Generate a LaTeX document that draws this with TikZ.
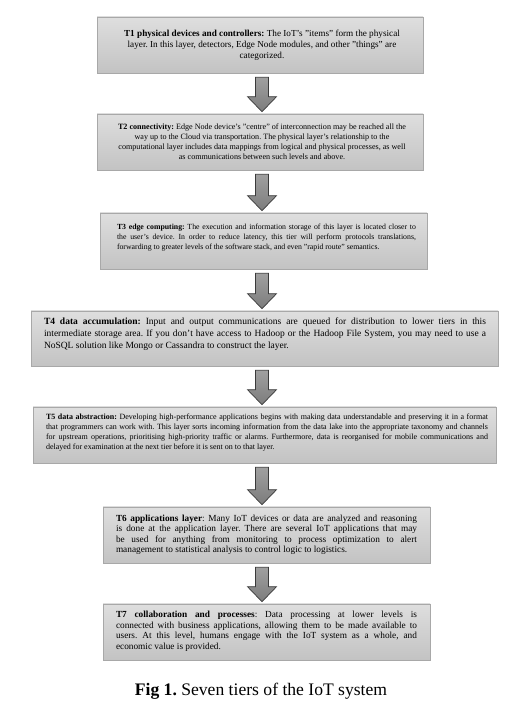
\documentclass[tikz,border=0pt]{standalone}
\usepackage{fontspec}
\setmainfont{Liberation Serif}
\usetikzlibrary{calc}
\frenchspacing
\definecolor{boxtop}{HTML}{DEDEDE}
\definecolor{boxbot}{HTML}{C3C3C3}
\definecolor{boxedge}{HTML}{A8A8A8}
\definecolor{arrtop}{HTML}{A0A0A0}
\definecolor{arrbot}{HTML}{7C7C7C}
\definecolor{arredge}{HTML}{3A3A3A}
\newcommand{\blockarrow}[2]{%
  \draw[blockarr] ($(#1)+(-6.5,0)$) -- ($(#1)+(6.5,0)$) -- ($(#2)+(6.5,15)$) -- ($(#2)+(14.5,15)$) -- (#2) -- ($(#2)+(-14.5,15)$) -- ($(#2)+(-6.5,15)$) -- cycle;}
\begin{document}
\begin{tikzpicture}[x=1pt,y=1pt,
  tierbox/.style={rectangle, draw=boxedge, line width=0.6pt, top color=boxtop, bottom color=boxbot, inner sep=0pt, minimum height=56pt},
  tiertext/.style={inner sep=0pt},
  blockarr/.style={draw=arredge, line width=0.7pt, top color=arrtop, bottom color=arrbot, line join=miter},
  captiontext/.style={inner sep=0pt, font=\fontsize{17.6}{21}\selectfont}
]
\useasboundingbox (0,0) rectangle (517,716);
\fill[white] (0,0) rectangle (517,716);
\coordinate (ax) at (262,0);
% boxes
\node[tierbox, minimum width=326pt] (b1) at (260,671) {};
\node[tierbox, minimum width=326pt] (b2) at (260,574) {};
\node[tierbox, minimum width=327pt] (b3) at (263.5,475) {};
\node[tierbox, minimum width=467pt, minimum height=55pt] (b4) at (264.5,377.5) {};
\node[tierbox, minimum width=463pt] (b5) at (264.5,281) {};
\node[tierbox, minimum width=327pt] (b6) at (266.5,181) {};
\node[tierbox, minimum width=327pt] (b7) at (266.5,84) {};
% texts
\node[tiertext, align=center, font=\fontsize{9.2}{11}\selectfont] (t1) at (262,671)
 {\textbf{T1 physical devices and controllers:} The IoT's "items" form the physical\\
  layer. In this layer, detectors, Edge Node modules, and other "things" are\\
  categorized.};
\node[tiertext, align=center, font=\fontsize{8.1}{10}\selectfont] (t2) at (262,574)
 {\textbf{T2 connectivity:} Edge Node device's "centre" of interconnection may be reached all the\\
  way up to the Cloud via transportation. The physical layer's relationship to the\\
  computational layer includes data mappings from logical and physical processes, as well\\
  as communications between such levels and above.};
\node[tiertext, align=justify, text width=299pt, font=\fontsize{7.8}{10}\selectfont] (t3) at (266.5,478)
 {\textbf{T3 edge computing:} The execution and information storage of this layer is located closer to\linebreak
  the user's device. In order to reduce latency, this tier will perform protocols translations,\linebreak
  forwarding to greater levels of the software stack, and even "rapid route" semantics.};
\node[tiertext, align=justify, text width=442pt, font=\fontsize{9.5}{12}\selectfont] (t4) at (265,381.5)
 {\textbf{T4 data accumulation:} Input and output communications are queued for distribution to lower tiers in this\linebreak
  intermediate storage area. If you don't have access to Hadoop or the Hadoop File System, you may need to use a\linebreak
  NoSQL solution like Mongo or Cassandra to construct the layer.};
\node[tiertext, align=justify, text width=442pt, font=\fontsize{8.0}{10}\selectfont] (t5) at (267,283)
 {\textbf{T5 data abstraction:} Developing high-performance applications begins with making data understandable and preserving it in a format\linebreak
  that programmers can work with. This layer sorts incoming information from the data lake into the appropriate taxonomy and channels\linebreak
  for upstream operations, prioritising high-priority traffic or alarms. Furthermore, data is reorganised for mobile communications and\linebreak
  delayed for examination at the next tier before it is sent on to that layer.};
\node[tiertext, align=justify, text width=301pt, font=\fontsize{9.3}{10.5}\selectfont] (t6) at (266.5,181)
 {\textbf{T6 applications layer}: Many IoT devices or data are analyzed and reasoning\linebreak
  is done at the application layer. There are several IoT applications that may\linebreak
  be used for anything from monitoring to process optimization to alert\linebreak
  management to statistical analysis to control logic to logistics.};
\node[tiertext, align=justify, text width=301pt, font=\fontsize{9.3}{10.5}\selectfont] (t7) at (266.5,84.5)
 {\textbf{T7 collaboration and processes}: Data processing at lower levels is\linebreak
  connected with business applications, allowing them to be made available to\linebreak
  users. At this level, humans engage with the IoT system as a whole, and\linebreak
  economic value is provided.};
% caption
\node[captiontext] (cap) at (261,25) {\textbf{Fig 1.} Seven tiers of the IoT system};
% arrows
\coordinate (a1s) at ($(b1.south -| ax)+(0,-4)$);
\coordinate (a1e) at ($(b2.north -| ax)+(0,2)$);
\coordinate (a2s) at ($(b2.south -| ax)+(0,-4)$);
\coordinate (a2e) at ($(b3.north -| ax)+(0,2)$);
\coordinate (a3s) at ($(b3.south -| ax)+(0,-4)$);
\coordinate (a3e) at ($(b4.north -| ax)+(0,2)$);
\coordinate (a4s) at ($(b4.south -| ax)+(0,-4)$);
\coordinate (a4e) at ($(b5.north -| ax)+(0,2)$);
\coordinate (a5s) at ($(b5.south -| ax)+(0,-4)$);
\coordinate (a5e) at ($(b6.north -| ax)+(0,2)$);
\coordinate (a6s) at ($(b6.south -| ax)+(0,-4)$);
\coordinate (a6e) at ($(b7.north -| ax)+(0,2)$);
\blockarrow{a1s}{a1e}
\blockarrow{a2s}{a2e}
\blockarrow{a3s}{a3e}
\blockarrow{a4s}{a4e}
\blockarrow{a5s}{a5e}
\blockarrow{a6s}{a6e}
\end{tikzpicture}
\end{document}
